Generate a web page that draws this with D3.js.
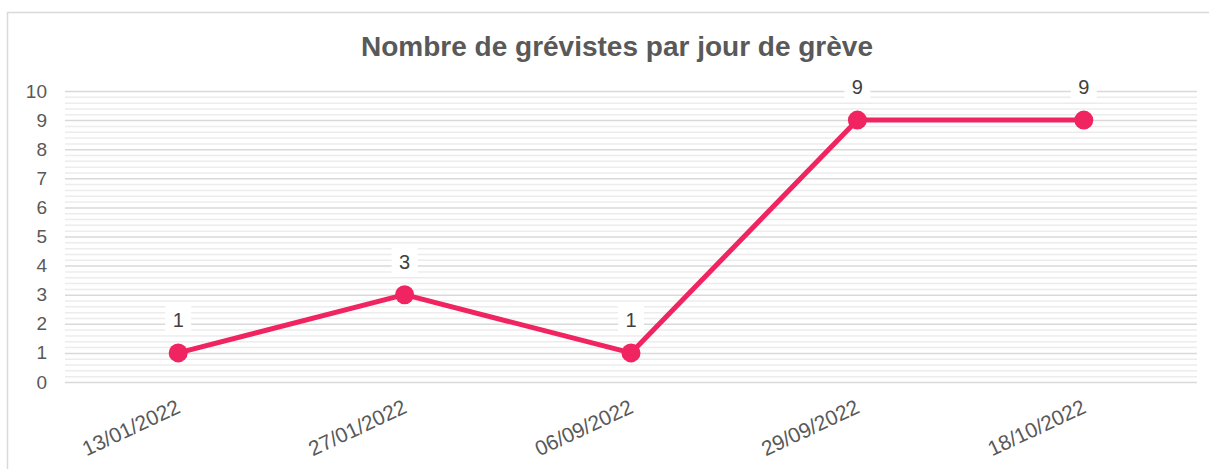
<!DOCTYPE html>
<html>
<head>
<meta charset="utf-8">
<script src="https://cdn.jsdelivr.net/npm/d3@7"></script>
<style>
  body { margin: 0; background: #fff; }
  svg { display: block; font-family: "Liberation Sans", Arial, sans-serif; }
</style>
</head>
<body>
<div id="chart"></div>
<script>
// Data
var dates = ["13/01/2022", "27/01/2022", "06/09/2022", "29/09/2022", "18/10/2022"];
var strikers = [1, 3, 1, 9, 9];
var yTicks = [0, 1, 2, 3, 4, 5, 6, 7, 8, 9, 10];
var title = "Nombre de grévistes par jour de grève";

var width = 1209, height = 469;
var margin = {top: 91, right: 12, bottom: 87, left: 65};
var innerW = width - margin.left - margin.right,
    innerH = height - margin.top - margin.bottom;

var svg = d3.select("#chart").append("svg")
    .attr("width", width)
    .attr("height", height);

// frame
svg.append("path")
    .attr("d", "M7.5," + height + " V12.5 H" + width)
    .attr("fill", "none")
    .attr("stroke", "#d9d9d9")
    .attr("stroke-width", 1.5);

svg.append("text")
    .attr("x", 617)
    .attr("y", 56)
    .attr("text-anchor", "middle")
    .style("font-size", "28px")
    .style("font-weight", "bold")
    .style("fill", "#595959")
    .text(title);

var g = svg.append("g")
    .attr("transform", "translate(" + margin.left + "," + margin.top + ")");

var x = d3.scalePoint().domain(dates).range([0, innerW]).padding(0.5);
var y = d3.scaleLinear().domain([0, 10]).range([innerH, 0]);

// minor gridlines
var minor = d3.range(0, 50).map(function(i) { return i / 5; }).filter(function(v) { return v % 1 !== 0; });
g.append("g")
    .attr("class", "grid-minor")
    .call(d3.axisLeft(y).tickValues(minor).tickSize(-innerW).tickFormat(""))
    .call(function(s) { s.select(".domain").remove(); })
    .selectAll("line")
    .attr("stroke", "#ececec")
    .attr("stroke-width", 1.5);

// major gridlines
g.append("g")
    .attr("class", "grid-major")
    .call(d3.axisLeft(y).tickValues(yTicks).tickSize(-innerW).tickFormat(""))
    .call(function(s) { s.select(".domain").remove(); })
    .selectAll("line")
    .attr("stroke", "#d9d9d9")
    .attr("stroke-width", 1.5);

// y labels
g.append("g")
    .call(d3.axisLeft(y).tickValues(yTicks).tickSize(0).tickPadding(18))
    .call(function(s) { s.select(".domain").remove(); })
    .selectAll("text")
    .style("font-size", "19px")
    .style("font-family", "'Liberation Sans', Arial, sans-serif")
    .attr("fill", "#595959");

// x labels
g.append("g")
    .attr("transform", "translate(0," + innerH + ")")
    .call(d3.axisBottom(x).tickSize(0).tickPadding(0))
    .call(function(s) { s.select(".domain").remove(); })
    .selectAll("text")
    .style("font-size", "21px")
    .style("font-family", "'Liberation Sans', Arial, sans-serif")
    .attr("fill", "#595959")
    .attr("text-anchor", "end")
    .attr("dy", "0")
    .attr("transform", "translate(3,30) rotate(-25)");

// line
var line = d3.line()
    .x(function(d, i) { return x(dates[i]); })
    .y(function(d) { return y(d); });

g.append("path")
    .datum(strikers)
    .attr("fill", "none")
    .attr("stroke", "#ef2460")
    .attr("stroke-width", 5)
    .attr("stroke-linejoin", "round")
    .attr("d", line);

g.selectAll("circle.pt")
    .data(strikers)
    .enter().append("circle")
    .attr("class", "pt")
    .attr("cx", function(d, i) { return x(dates[i]); })
    .attr("cy", function(d) { return y(d); })
    .attr("r", 9.5)
    .attr("fill", "#ef2460");

// data labels with white box
var lbl = g.selectAll("g.lbl")
    .data(strikers)
    .enter().append("g")
    .attr("class", "lbl")
    .attr("transform", function(d, i) {
      return "translate(" + x(dates[i]) + "," + (y(d) - 33) + ")";
    });

lbl.append("rect")
    .attr("x", -13)
    .attr("y", -14)
    .attr("width", 26)
    .attr("height", 28)
    .attr("fill", "#fff");

lbl.append("text")
    .attr("text-anchor", "middle")
    .attr("dy", "0.36em")
    .style("font-size", "20px")
    .style("fill", "#404040")
    .text(function(d) { return d; });
</script>
</body>
</html>
